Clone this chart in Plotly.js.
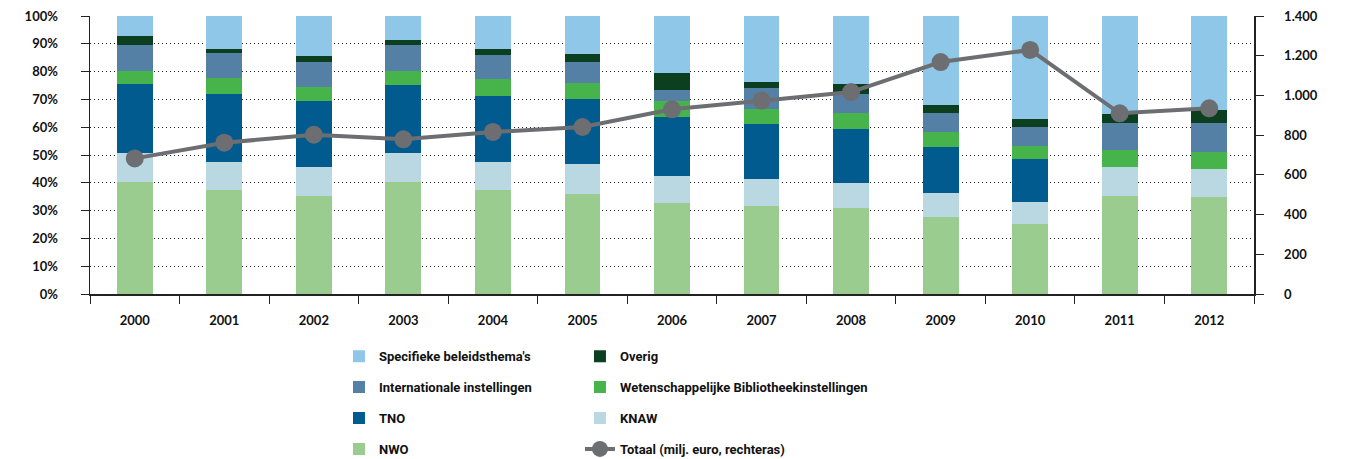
<!DOCTYPE html>
<html>
<head>
<meta charset="utf-8">
<script src="https://cdn.plot.ly/plotly-3.0.1.min.js"></script>
<style>
html,body{margin:0;padding:0;background:#fff;}
#chart{width:1350px;height:459px;}
</style>
</head>
<body>
<div id="chart"></div>
<script>
const years = ['2000','2001','2002','2003','2004','2005','2006','2007','2008','2009','2010','2011','2012'];
const nwo = [40.3, 37.3, 35.3, 40.3, 37.3, 36.1, 32.8, 31.7, 30.9, 27.7, 25.2, 35.3, 34.8];
const knaw = [10.3, 10.1, 10.3, 10.3, 10.1, 10.7, 9.6, 9.6, 9.0, 8.5, 7.8, 10.3, 10.1];
const tno = [24.9, 24.4, 23.9, 24.5, 23.8, 23.2, 21.4, 20.0, 19.6, 16.8, 15.7, 0, 0];
const wbi = [4.7, 5.9, 5.1, 5.1, 6.0, 5.8, 5.7, 5.1, 5.5, 5.2, 4.4, 6.3, 6.3];
const intl = [9.5, 8.9, 8.9, 9.5, 8.8, 7.7, 3.9, 7.6, 7.1, 6.9, 7.0, 9.5, 10.2];
const overig = [3.1, 1.5, 2.1, 1.7, 2.1, 2.8, 6.1, 2.4, 3.4, 2.9, 2.8, 3.5, 4.8];
const specifiek = [7.2, 11.9, 14.4, 8.6, 11.9, 13.7, 20.5, 23.6, 24.5, 32.0, 37.1, 35.1, 33.8];
const totaal = [683, 762, 802, 779, 816, 841, 930, 974, 1017, 1168, 1229, 910, 935];

const names = {
  spec: "Specifieke beleidsthema's",
  intl: 'Internationale instellingen',
  tno: 'TNO',
  nwo: 'NWO',
  overig: 'Overig',
  wbi: 'Wetenschappelijke Bibliotheekinstellingen',
  knaw: 'KNAW',
  tot: 'Totaal (milj. euro, rechteras)'
};
const colors = {
  spec: '#8fc7e8', intl: '#5580a6', tno: '#025b8f', nwo: '#99cc8e',
  overig: '#0b3f20', wbi: '#46b44a', knaw: '#bad8e2', tot: '#6d6e71'
};

function bar(key, vals, legend, rank) {
  return {
    type: 'bar', x: years, y: vals, name: names[key],
    marker: {color: colors[key], line: {width: 0}},
    width: 0.4, legend: legend, legendgroup: key, legendrank: rank,
    hoverinfo: 'skip'
  };
}

const data = [
  bar('nwo', nwo, 'legend', 4),
  bar('knaw', knaw, 'legend2', 3),
  bar('tno', tno, 'legend', 3),
  bar('wbi', wbi, 'legend2', 2),
  bar('intl', intl, 'legend', 2),
  bar('overig', overig, 'legend2', 1),
  bar('spec', specifiek, 'legend', 1),
  {
    type: 'scatter', mode: 'lines+markers', x: years, y: totaal, yaxis: 'y2',
    name: names.tot, legend: 'legend2', legendgroup: 'tot', legendrank: 4,
    line: {color: colors.tot, width: 4},
    marker: {color: colors.tot, size: 18},
    hoverinfo: 'skip'
  }
];

const tickFont = {family: 'Lato, "Open Sans", sans-serif', size: 13, color: '#111', weight: 'bold'};
const legFont = {family: 'Roboto, "Liberation Sans", sans-serif', size: 13, color: '#111', weight: 'bold'};

const layout = {
  width: 1350, height: 459,
  margin: {l: 90, r: 96, t: 16, b: 165, autoexpand: false},
  paper_bgcolor: '#fff', plot_bgcolor: '#fff',
  barmode: 'stack',
  separators: ',.',
  showlegend: true,
  xaxis: {
    type: 'category', range: [-0.5, 12.5], tickson: 'boundaries', ticks: 'outside', ticklen: 8, tickcolor: '#222',
    showline: true, linecolor: '#222', linewidth: 1.5, showgrid: false,
    tickfont: tickFont, ticklabelstandoff: 14, fixedrange: true
  },
  yaxis: {
    range: [0, 100], dtick: 10, ticksuffix: '%', ticks: 'outside', ticklen: 8, tickcolor: '#222',
    showline: true, linecolor: '#222', linewidth: 1.5,
    showgrid: true, gridcolor: '#222', griddash: '1px,3px', gridwidth: 1, zeroline: false,
    tickfont: tickFont, ticklabelstandoff: 20, fixedrange: true
  },
  yaxis2: {
    overlaying: 'y', side: 'right', range: [0, 1400], dtick: 200, tickformat: ',d',
    ticks: 'outside', ticklen: 8, tickcolor: '#222',
    showline: true, linecolor: '#222', linewidth: 1.5, showgrid: false, zeroline: false,
    tickfont: tickFont, ticklabelstandoff: 18, fixedrange: true
  },
  legend: {
    xref: 'container', yref: 'container',
    x: 0.2511, y: 0.2565, xanchor: 'left', yanchor: 'top', orientation: 'v',
    traceorder: 'grouped', tracegroupgap: 11, font: legFont, bgcolor: 'rgba(0,0,0,0)'
  },
  legend2: {
    xref: 'container', yref: 'container',
    x: 0.4296, y: 0.2565, xanchor: 'left', yanchor: 'top', orientation: 'v',
    traceorder: 'grouped', tracegroupgap: 11, font: legFont, bgcolor: 'rgba(0,0,0,0)'
  }
};

Plotly.newPlot('chart', data, layout, {staticPlot: true, displayModeBar: false});
</script>
</body>
</html>
